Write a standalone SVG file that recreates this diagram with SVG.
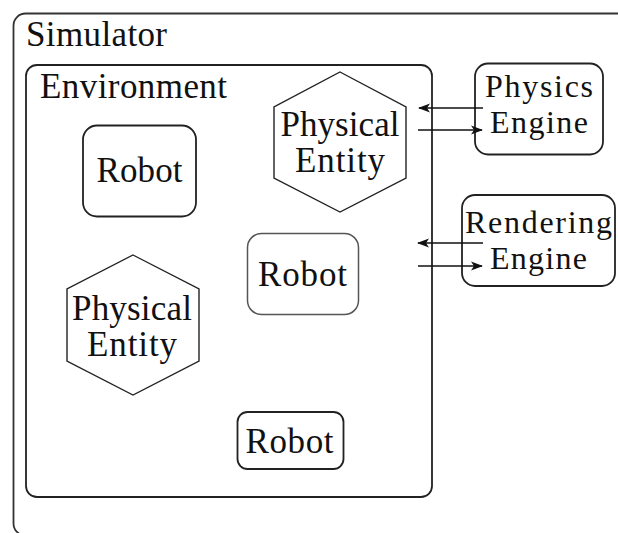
<svg xmlns="http://www.w3.org/2000/svg" width="618" height="533" viewBox="0 0 618 533">
<defs>
<style>
.box{fill:#fff;stroke:#222;stroke-width:1.8}
.lbl{font-family:"Liberation Serif","Times New Roman",serif;font-size:35px;fill:#111}
.eng{font-size:32px}
.c{text-anchor:middle}
.conn{stroke:#111;stroke-width:1.6;fill:none}
</style>
<marker id="ah" viewBox="0 0 12 10" refX="11" refY="5" markerWidth="12" markerHeight="10" markerUnits="userSpaceOnUse" orient="auto">
<path d="M0,0.5 L12,5 L0,9.5 L3,5 Z" fill="#111"/>
</marker>
</defs>
<rect width="618" height="533" fill="#fff"/>
<g id="simulator">
<rect class="box" x="13.5" y="13.5" width="640" height="522" rx="12" style="stroke:#333"/>
<text class="lbl" x="26" y="46" textLength="141" lengthAdjust="spacing">Simulator</text>
</g>
<g id="environment">
<rect class="box" x="26" y="65" width="406" height="432" rx="11"/>
<text class="lbl" x="40" y="98" textLength="187" lengthAdjust="spacing">Environment</text>
</g>
<g id="robot1">
<rect class="box" x="83" y="125.5" width="113" height="91" rx="14"/>
<text class="lbl c" x="139.5" y="182" textLength="86" lengthAdjust="spacing">Robot</text>
</g>
<g id="robot2">
<rect class="box" x="247.5" y="233.5" width="111" height="81" rx="14" style="stroke:#555;stroke-width:1.5"/>
<text class="lbl c" x="302.5" y="286" textLength="89" lengthAdjust="spacing">Robot</text>
</g>
<g id="robot3">
<rect class="box" x="237.5" y="412" width="106" height="57" rx="10"/>
<text class="lbl c" x="289.5" y="453" textLength="88" lengthAdjust="spacing">Robot</text>
</g>
<g id="entity1">
<polygon class="box" points="340,72 406,107 406,178 340,212 274,178 274,107" style="stroke-width:1.4"/>
<text class="lbl c" x="340" y="136" textLength="119" lengthAdjust="spacing">Physical</text>
<text class="lbl c" x="340" y="172" textLength="90" lengthAdjust="spacing">Entity</text>
</g>
<g id="entity2">
<polygon class="box" points="133,255 199,289 199,361 133,395 67,361 67,289" style="stroke-width:1.4"/>
<text class="lbl c" x="132" y="320" textLength="120" lengthAdjust="spacing">Physical</text>
<text class="lbl c" x="132" y="356" textLength="90" lengthAdjust="spacing">Entity</text>
</g>
<g id="physics-engine">
<rect class="box" x="475" y="63.5" width="128" height="91" rx="13"/>
<text class="lbl eng c" x="539" y="97" textLength="108" lengthAdjust="spacing">Physics</text>
<text class="lbl eng c" x="539" y="133" textLength="98" lengthAdjust="spacing">Engine</text>
</g>
<g id="rendering-engine">
<rect class="box" x="462" y="195" width="153" height="91" rx="13"/>
<text class="lbl eng c" x="538.5" y="233" textLength="147" lengthAdjust="spacing">Rendering</text>
<text class="lbl eng c" x="538.5" y="269" textLength="97" lengthAdjust="spacing">Engine</text>
</g>
<g id="connectors">
<line class="conn" x1="483" y1="108" x2="419" y2="108" marker-end="url(#ah)"/>
<line class="conn" x1="418" y1="130" x2="482" y2="130" marker-end="url(#ah)"/>
<line class="conn" x1="483" y1="243" x2="418" y2="243" marker-end="url(#ah)"/>
<line class="conn" x1="418" y1="266" x2="482" y2="266" marker-end="url(#ah)"/>
</g>
</svg>
